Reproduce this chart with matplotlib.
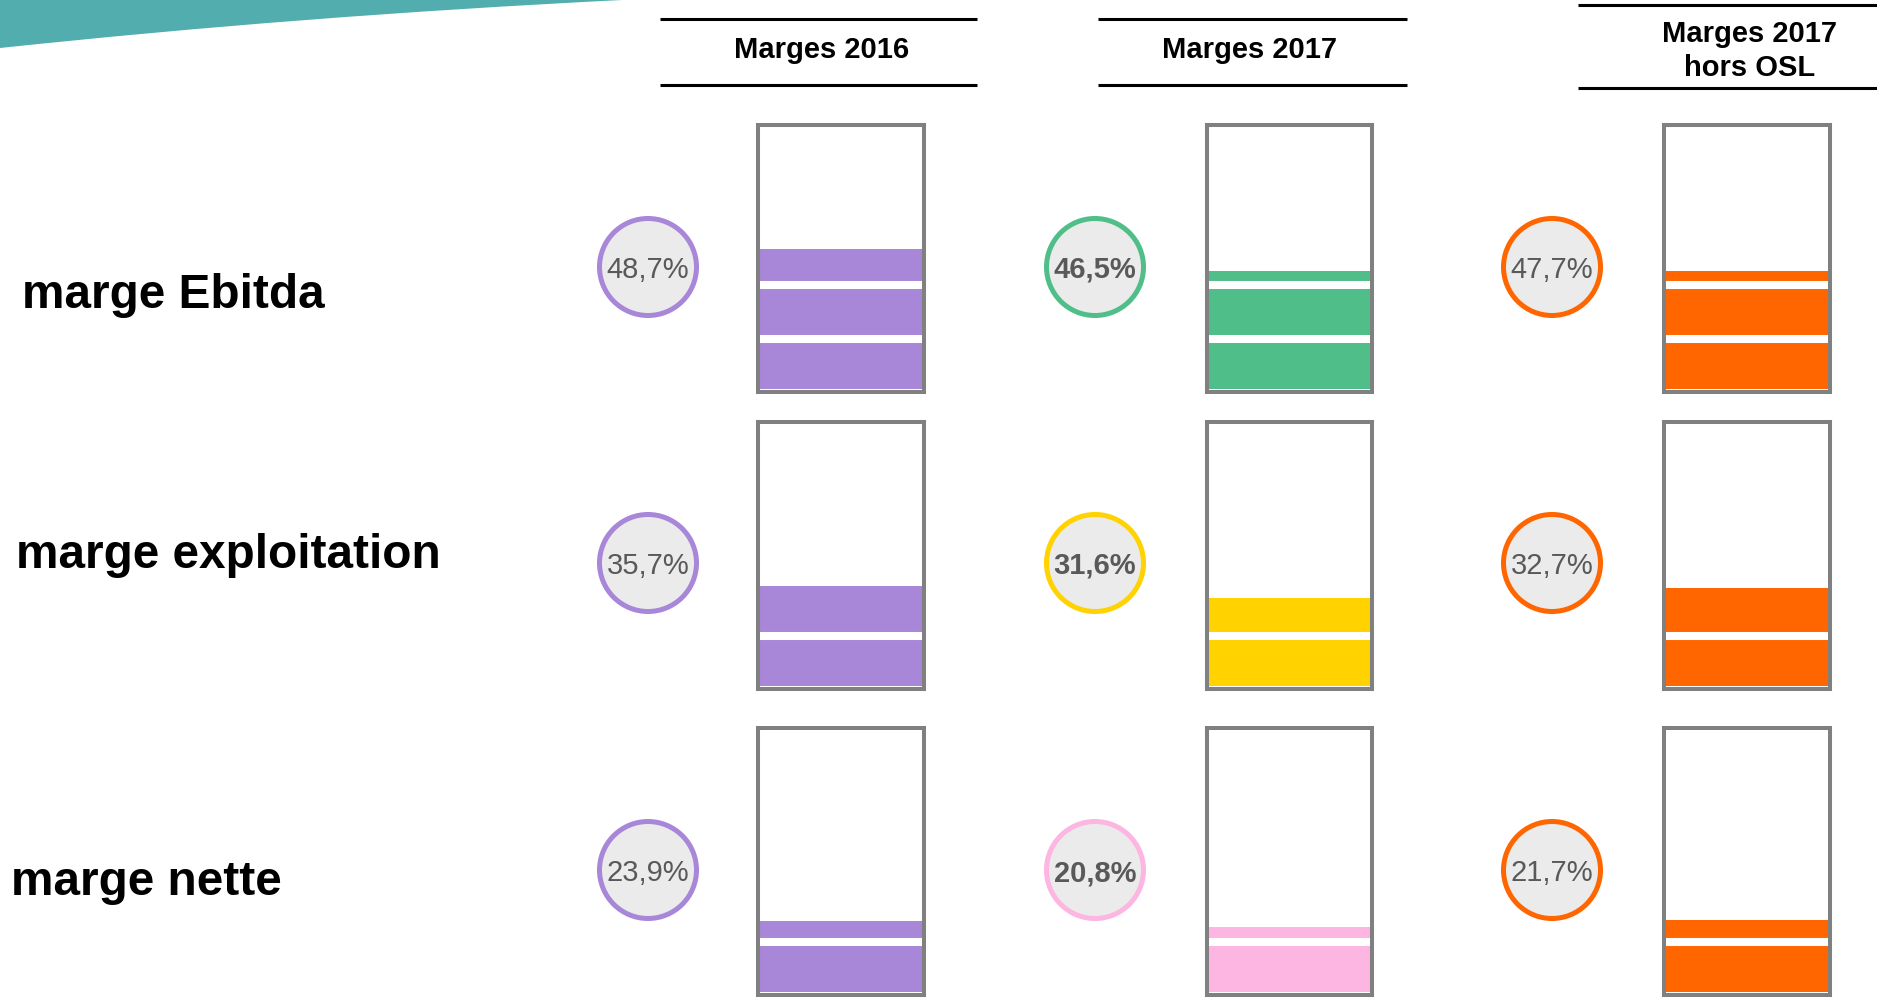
import matplotlib
matplotlib.use('Agg')
import matplotlib.pyplot as plt
from matplotlib.patches import Circle, PathPatch
from matplotlib.path import Path

# data
lignes = ["marge Ebitda", "marge exploitation", "marge nette"]
colonnes = ["Marges 2016", "Marges 2017", "Marges 2017\nhors OSL"]
valeurs = [["48,7%", "46,5%", "47,7%"],
           ["35,7%", "31,6%", "32,7%"],
           ["23,9%", "20,8%", "21,7%"]]
# fill level of each gauge, in % of the box height
niveaux = [[53.4, 45.5, 45.5],
           [38.4, 34.0, 37.7],
           [27.6, 25.4, 28.0]]
couleurs = [["#a886d8", "#50be88", "#ff6600"],
            ["#a886d8", "#ffd200", "#ff6600"],
            ["#a886d8", "#fdb5e2", "#ff6600"]]
gras = [False, True, False]

plt.rcParams['font.family'] = ['Liberation Sans', 'DejaVu Sans']

W, H = 1877, 1001
fig = plt.figure(figsize=(W / 100, H / 100), dpi=100)
ax = fig.add_axes([0, 0, 1, 1])
ax.set_xlim(0, W)
ax.set_ylim(H, 0)
ax.axis('off')

# teal swoosh top left
verts = [(0, 0), (622, 0), (300, 16), (0, 48), (0, 0)]
codes = [Path.MOVETO, Path.LINETO, Path.CURVE3, Path.CURVE3, Path.CLOSEPOLY]
ax.add_patch(PathPatch(Path(verts, codes), facecolor="#52adae", edgecolor="none"))

# layout (pixels)
box_x = [(756, 926), (1205, 1374), (1662, 1832)]
box_y = [(123, 394), (420, 691), (726, 997)]
circ_x = [648, 1095, 1552]
circ_y = [267, 563, 870]
label_pos = [(22, 308), (16, 568), (11, 895)]

# column headers
head_x = [(660, 977), (1098, 1407), (1578, 1877)]
head_y = [(19, 85), (19, 85), (5, 88)]
head_txt = [(822, 50), (1250, 50), (1750, 51)]
for j, titre in enumerate(colonnes):
    x0, x1 = head_x[j]
    for yy in head_y[j]:
        ax.plot([x0, x1], [yy, yy], color="black", lw=2.2, solid_capstyle='butt')
    ax.text(head_txt[j][0], head_txt[j][1], titre,
            ha='center', va='center', fontsize=21, fontweight='bold', linespacing=1.3)

# row labels
for i, lab in enumerate(lignes):
    ax.text(label_pos[i][0], label_pos[i][1], lab, ha='left', va='baseline',
            fontsize=34.4, fontweight='bold', color="black")

for i in range(3):
    for j in range(3):
        col = couleurs[i][j]
        # circle with value
        ax.add_patch(Circle((circ_x[j], circ_y[i]), 48.5, facecolor="#ebebeb",
                            edgecolor=col, lw=3.6))
        ax.text(circ_x[j], circ_y[i] + 3, valeurs[i][j], ha='center', va='center',
                fontsize=21, color="#595959",
                fontweight='bold' if gras[j] else 'normal')

        # gauge box
        x0, x1 = box_x[j]
        y0, y1 = box_y[i]
        bx = fig.add_axes([(x0 + 2) / W, 1 - (y1 - 2) / H, (x1 - x0 - 4) / W, (y1 - y0 - 4) / H])
        bx.set_xlim(-0.5, 0.5)
        bx.set_ylim(0, 100)
        bx.bar(0, niveaux[i][j] - 1, bottom=1, width=1, color=col)
        for s in [20, 40, 60, 80]:
            bx.axhline(s, color="white", lw=5.8)
        bx.set_xticks([])
        bx.set_yticks([])
        for sp in bx.spines.values():
            sp.set_color("#808080")
            sp.set_linewidth(2.9)
            sp.set_zorder(5)

fig.savefig("out.png", dpi=100)
